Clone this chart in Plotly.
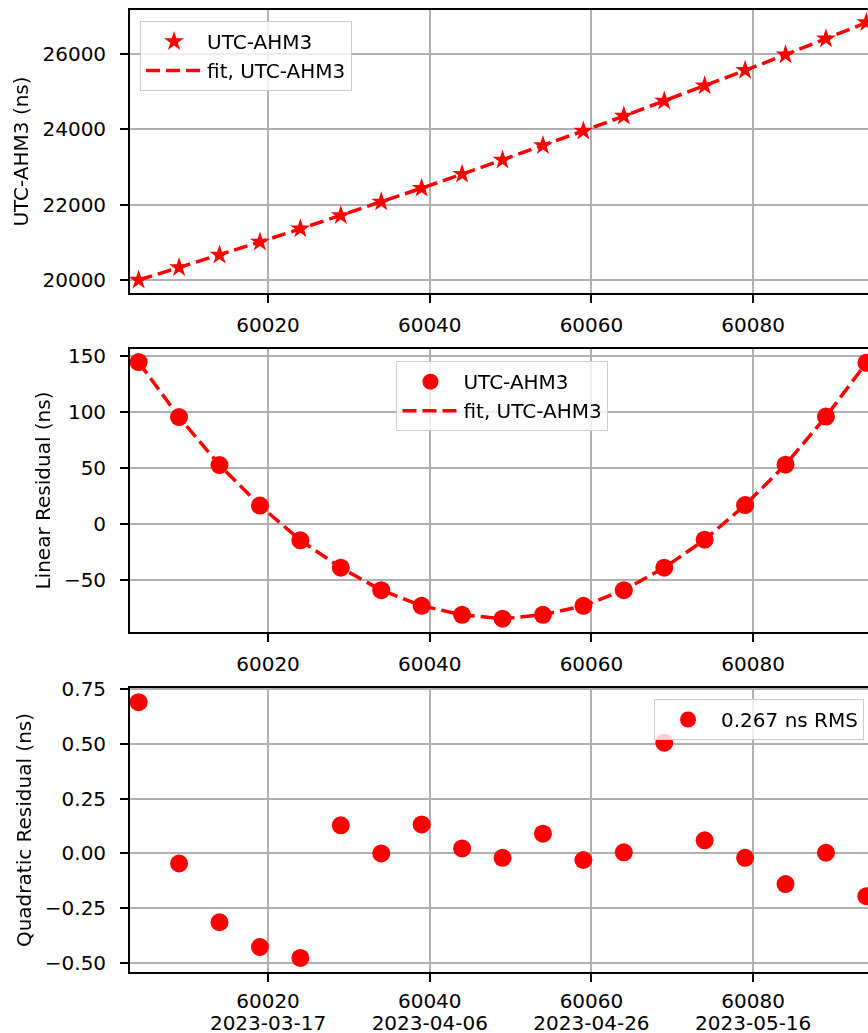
import plotly.graph_objects as go

# ---- data ----
mjd = [60004, 60009, 60014, 60019, 60024, 60029, 60034, 60039, 60044, 60049,
       60054, 60059, 60064, 60069, 60074, 60079, 60084, 60089, 60094]
utc_ahm3 = [20000, 20331, 20668, 21012, 21361, 21716, 22077, 22442, 22814, 23191,
            23574, 23962, 24357, 24756, 25161, 25572, 25988, 26411, 26840]
linear_resid = [144.6, 95.5, 52.7, 16.5, -14.5, -39.0, -59.0, -73.0, -81.0, -84.5,
                -81.0, -73.0, -59.0, -39.0, -14.0, 17.0, 53.0, 96.0, 144.0]
quad_resid = [0.69, -0.046, -0.314, -0.427, -0.477, 0.128, 0.0, 0.132, 0.023, -0.02,
              0.09, -0.03, 0.005, 0.505, 0.06, -0.02, -0.14, 0.003, -0.195]
# fitted curves (quadratic fit, visually identical to data at this scale)
fit_utc = utc_ahm3
fit_linear_resid = linear_resid

series_name = "UTC-AHM3"
fit_name = "fit, UTC-AHM3"
rms_label = "0.267 ns RMS"

mjd_ticks = [60020, 60040, 60060, 60080]
date_ticks = ["2023-03-17", "2023-04-06", "2023-04-26", "2023-05-16"]

# ---- style ----
RED = "#ff0000"
FONT = "DejaVu Sans"
FS = 20
GRID = "#b0b0b0"
XR = [60002.93, 60094.2]
DASH = "14px,6px"

fig = go.Figure()

fig.add_trace(go.Scatter(x=mjd, y=utc_ahm3, mode="markers", name=series_name,
                         marker=dict(symbol="star", size=15, color=RED),
                         xaxis="x", yaxis="y", legend="legend"))
fig.add_trace(go.Scatter(x=mjd, y=fit_utc, mode="lines", name=fit_name,
                         line=dict(color=RED, width=3.5, dash=DASH),
                         xaxis="x", yaxis="y", legend="legend"))

fig.add_trace(go.Scatter(x=mjd, y=linear_resid, mode="markers", name=series_name,
                         marker=dict(symbol="circle", size=18, color=RED),
                         xaxis="x2", yaxis="y2", legend="legend2"))
fig.add_trace(go.Scatter(x=mjd, y=fit_linear_resid, mode="lines", name=fit_name,
                         line=dict(color=RED, width=3.5, dash=DASH),
                         xaxis="x2", yaxis="y2", legend="legend2"))

fig.add_trace(go.Scatter(x=mjd, y=quad_resid, mode="markers", name=rms_label,
                         marker=dict(symbol="circle", size=18, color=RED),
                         xaxis="x3", yaxis="y3", legend="legend3"))

# invisible carrier trace so the overlaying date axis is drawn
fig.add_trace(go.Scatter(x=mjd, y=quad_resid, mode="markers", name="dates",
                         marker=dict(size=1, color="rgba(0,0,0,0)"), opacity=0,
                         showlegend=False, hoverinfo="skip",
                         xaxis="x4", yaxis="y3"))

def xax(anchor, ticktext, standoff):
    return dict(range=XR, domain=[0, 1], anchor=anchor, automargin=False,
                tickmode="array", tickvals=mjd_ticks, ticktext=ticktext,
                showgrid=True, gridcolor=GRID, gridwidth=1.6,
                showline=True, linecolor="black", linewidth=1.8, mirror=True,
                ticks="outside", ticklen=8, tickwidth=1.6, tickcolor="black",
                ticklabelstandoff=standoff,
                zeroline=False, tickfont=dict(family=FONT, size=FS, color="black"))

def yax(anchor, domain, rng, title, dtick, fmt):
    return dict(range=rng, domain=domain, anchor=anchor, automargin=False,
                dtick=dtick, tickformat=fmt,
                title=dict(text=title, font=dict(family=FONT, size=FS, color="black"), standoff=8),
                showgrid=True, gridcolor=GRID, gridwidth=1.6,
                showline=True, linecolor="black", linewidth=1.8, mirror=False,
                ticks="outside", ticklen=8, tickwidth=1.6, tickcolor="black",
                ticklabelstandoff=10,
                zeroline=False, tickfont=dict(family=FONT, size=FS, color="black"))

plain = [str(v) for v in mjd_ticks]

legend_style = dict(bgcolor="rgba(255,255,255,0.8)", bordercolor="#cccccc", borderwidth=1,
                    itemwidth=56,
                    font=dict(family=FONT, size=FS, color="black"))

# second row of bottom tick labels (calendar dates) on an overlaying axis
date_axis = dict(range=XR, domain=[0, 1], anchor="y3", overlaying="x3", side="bottom",
                 automargin=False, tickmode="array", tickvals=mjd_ticks, ticktext=date_ticks,
                 showgrid=False, showline=False, zeroline=False, ticks="",
                 ticklabelstandoff=37,
                 tickfont=dict(family=FONT, size=FS, color="black"))

fig.update_layout(
    width=868, height=1033,
    margin=dict(l=130, r=0, t=10, b=61, autoexpand=False),
    paper_bgcolor="white", plot_bgcolor="white",
    font=dict(family=FONT, size=FS, color="black"),
    xaxis=xax("y", plain, 5),
    xaxis2=xax("y2", plain, 5),
    xaxis3=xax("y3", plain, 2),
    xaxis4=date_axis,
    yaxis=yax("x", [0.7058, 1.0], [19655, 27175], "UTC-AHM3 (ns)", 2000, "d"),
    yaxis2=yax("x2", [0.3534, 0.6476], [-96.4, 156.3], "Linear Residual (ns)", 50, "d"),
    yaxis3=yax("x3", [0.0, 0.2952], [-0.541, 0.7546], "Quadratic Residual (ns)", 0.25, ".2f"),
    legend=dict(x=0.0136, y=0.9886, xanchor="left", yanchor="top", **legend_style),
    legend2=dict(x=0.5047, y=0.635, xanchor="center", yanchor="top", **legend_style),
    legend3=dict(x=0.9946, y=0.2838, xanchor="right", yanchor="top", **legend_style),
    showlegend=True,
)

post = ("document.documentElement.style.margin='0';"
        "document.body.style.margin='0';document.body.style.padding='0';"
        "document.documentElement.style.overflow='hidden';"
        "document.body.style.overflow='hidden';"
        )

fig.write_html("out.html", post_script=post, config={"displayModeBar": False})
